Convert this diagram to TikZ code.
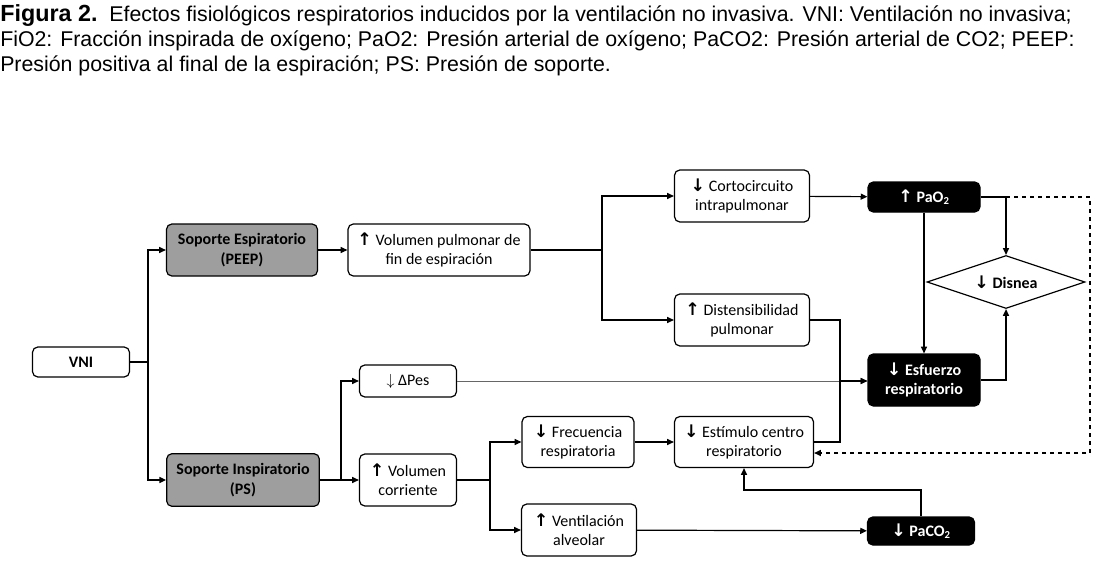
\documentclass[tikz,border=0pt]{standalone}
\usepackage{fontspec}
\setmainfont{Carlito}
\newfontfamily\capfont{Liberation Sans}
\newfontfamily\arrowfont{DejaVu Sans}
\usetikzlibrary{arrows.meta,shapes.geometric}
\newcommand{\arrup}{{\arrowfont\bfseries\fontsize{13}{14}\selectfont ↑}}
\newcommand{\arrdn}{{\arrowfont\bfseries\fontsize{13}{14}\selectfont ↓}}
\begin{document}
\begin{tikzpicture}[x=0.75pt,y=-0.75pt,
    box/.style={draw,line width=0.9pt,rounded corners=4pt,align=center,inner sep=1pt,
      font=\fontsize{12}{14.5}\selectfont},
    greybox/.style={box,fill=black!38,font=\bfseries\fontsize{12}{14.5}\selectfont},
    darkbox/.style={box,fill=black,text=white,font=\bfseries\fontsize{12}{14.5}\selectfont},
    link/.style={line width=0.9pt,-{Triangle[length=5pt,width=4.5pt]}},
    plain/.style={line width=0.9pt},
    caption/.style={anchor=base west,inner sep=0pt,font=\capfont\fontsize{16}{18}\selectfont}]
  \useasboundingbox (0,0) rectangle (1102,563);

  % Caption
  \node[caption] (cap1) at (0,22) {{\fontsize{17.5}{18}\selectfont\bfseries Figura 2.}\ \ Efectos fisiológicos respiratorios inducidos por la ventilación no invasiva. VNI: Ventilación no invasiva;};
  \node[caption] (cap2) at (0,47) {FiO2: Fracción inspirada de oxígeno; PaO2: Presión arterial de oxígeno; PaCO2: Presión arterial de CO2; PEEP:};
  \node[caption] (cap3) at (0,72) {Presión positiva al final de la espiración; PS: Presión de soporte.};

  % Boxes
  \node[box,font=\bfseries\fontsize{12}{14.5}\selectfont,minimum width=72.75pt,minimum height=22.5pt] (vni) at (81,362) {VNI};
  \node[greybox,minimum width=113.25pt,minimum height=39pt] (peep) at (242,250) {Soporte Espiratorio\\(PEEP)};
  \node[greybox,minimum width=114.5pt,minimum height=39.5pt] (ps) at (243,480) {Soporte Inspiratorio\\(PS)};
  \node[box,minimum width=136.5pt,minimum height=39pt] (volpul) at (439,250) {\arrup\ Volumen pulmonar de\\fin de espiración};
  \node[box,minimum width=72.75pt,minimum height=24pt] (dpes) at (408,381) {$\downarrow$ ΔPes};
  \node[box,minimum width=72.75pt,minimum height=39pt] (volcor) at (408,480) {\arrup\ Volumen\\corriente};
  \node[box,minimum width=101.25pt,minimum height=39pt] (corto) at (742,196) {\arrdn\ Cortocircuito\\intrapulmonar};
  \node[box,minimum width=101.25pt,minimum height=39pt] (dist) at (742,320) {\arrup\ Distensibilidad\\pulmonar};
  \node[darkbox,minimum width=84pt,minimum height=22.5pt] (pao2) at (924,197) {\arrup\ PaO\textsubscript{2}};
  \node[draw,line width=0.9pt,shape=diamond,aspect=3,inner sep=0pt,minimum width=118.5pt,minimum height=39.75pt,
    font=\bfseries\fontsize{12}{14.5}\selectfont] (disnea) at (1006,282) {\arrdn\ Disnea};
  \node[darkbox,minimum width=84pt,minimum height=39pt] (esf) at (924,380) {\arrdn\ Esfuerzo\\respiratorio};
  \node[box,minimum width=84pt,minimum height=38.25pt] (frec) at (578,442) {\arrdn\ Frecuencia\\respiratoria};
  \node[box,minimum width=104.25pt,minimum height=38.25pt] (estim) at (744,442) {\arrdn\ Estímulo centro\\respiratorio};
  \node[box,minimum width=86.25pt,minimum height=39pt] (vent) at (579,530) {\arrup\ Ventilación\\alveolar};
  \node[darkbox,minimum width=80.25pt,minimum height=21pt] (paco2) at (921,531) {\arrdn\ PaCO\textsubscript{2}};

  % Branch points
  \coordinate (s1) at (148,362);
  \coordinate (s2) at (602,250);
  \coordinate (s3) at (341,480);
  \coordinate (s4) at (840,381);
  \coordinate (s5) at (490,480);
  \coordinate (s6) at (744,490);
  \coordinate (s7) at (1006,197);
  \coordinate (s8) at (1090,197);
  \coordinate (s9) at (1090,453);

  % Connectors
  \draw[plain] (vni) -- (s1);
  \draw[link] (s1) |- (peep);
  \draw[link] (s1) |- (ps);
  \draw[link] (peep) -- (volpul);
  \draw[plain] (volpul) -- (s2);
  \draw[link] (s2) |- (corto);
  \draw[link] (s2) |- (dist);
  \draw[plain] (ps) -- (s3);
  \draw[link] (s3) |- (dpes);
  \draw[link] (s3) -- (volcor);
  \draw[line width=0.5pt,black!60,-{Triangle[length=5pt,width=4.5pt]}] (dpes) -- (dpes -| esf.west);
  \draw[plain] (dist) -| (s4);
  \draw[plain] (estim) -| (s4);
  \draw[link] (s4) -- (s4 -| esf.west);
  \draw[plain] (volcor) -- (s5);
  \draw[link] (s5) |- (frec);
  \draw[link] (s5) |- (vent);
  \draw[link] (frec) -- (estim);
  \draw[link] (vent) -- (paco2);
  \draw[link] (paco2) |- (s6) -- (estim);
  \draw[link] (corto) -- (pao2);
  \draw[link] (pao2) -- (esf);
  \draw[link] (pao2) -- (s7) -- (disnea);
  \draw[link] (esf) -| (disnea);
  \draw[link,dashed] (s7) -- (s8) -- (s9) -- (s9 -| estim.east);
\end{tikzpicture}
\end{document}
